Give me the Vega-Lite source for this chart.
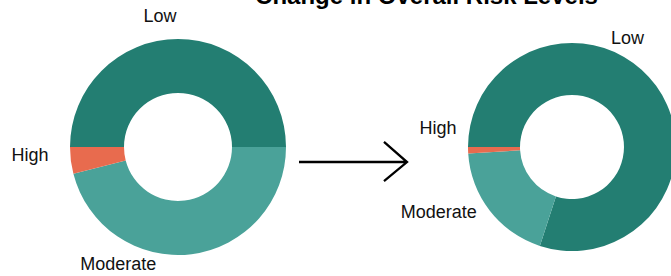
{
  "$schema": "https://vega.github.io/schema/vega-lite/v6.json",
  "width": 671,
  "height": 256,
  "autosize": {"type": "none"},
  "padding": {"left": 0, "right": 0, "top": 19, "bottom": 1},
  "background": "white",
  "title": {
    "text": "Change in Overall Risk Levels",
    "font": "Liberation Sans",
    "fontSize": 24,
    "fontWeight": "bold",
    "color": "black",
    "anchor": "middle",
    "frame": "group",
    "dx": 91,
    "dy": 5,
    "offset": 4
  },
  "config": {"view": {"stroke": null}, "text": {"font": "Liberation Sans"}},
  "datasets": {
    "risk": [
      {"chart": "Before", "level": "Low", "rank": 1, "share": 50},
      {"chart": "Before", "level": "Moderate", "rank": 2, "share": 46},
      {"chart": "Before", "level": "High", "rank": 3, "share": 4},
      {"chart": "After", "level": "Low", "rank": 1, "share": 80},
      {"chart": "After", "level": "Moderate", "rank": 2, "share": 19},
      {"chart": "After", "level": "High", "rank": 3, "share": 1}
    ],
    "arrow": [{"from": "Before", "to": "After"}]
  },
  "data": {"name": "risk"},
  "encoding": {
    "x": {"field": "chart", "type": "nominal", "scale": {"type": "point", "padding": 0, "domain": ["Before", "After"], "range": [178, 572]}, "axis": null},
    "theta": {"field": "share", "type": "quantitative", "stack": true, "scale": {"range": [-1.5707963, 4.712389]}},
    "order": {"field": "rank", "type": "ordinal"}
  },
  "layer": [
    {
      "transform": [{"filter": "datum.chart === 'Before'"}],
      "mark": {"type": "arc", "outerRadius": 108, "innerRadius": 54},
      "encoding": {
        "color": {"field": "level", "type": "nominal", "scale": {"domain": ["Low", "Moderate", "High"], "range": ["#237e72", "#4aa299", "#e86b4e"]}, "legend": null}
      }
    },
    {
      "transform": [{"filter": "datum.chart === 'After'"}],
      "mark": {"type": "arc", "outerRadius": 104, "innerRadius": 52},
      "encoding": {
        "color": {"field": "level", "type": "nominal", "legend": null}
      }
    },
    {
      "transform": [{"filter": "datum.chart === 'Before'"}],
      "mark": {"type": "text", "radius": 122, "dx": -18, "dy": -8, "fontSize": 18, "color": "#111"},
      "encoding": {"text": {"condition": {"test": "datum.level === 'Low'", "field": "level"}, "value": ""}}
    },
    {
      "transform": [{"filter": "datum.chart === 'Before'"}],
      "mark": {"type": "text", "radius": 122, "dx": -75, "dy": -3, "fontSize": 18, "color": "#111"},
      "encoding": {"text": {"condition": {"test": "datum.level === 'Moderate'", "field": "level"}, "value": ""}}
    },
    {
      "transform": [{"filter": "datum.chart === 'Before'"}],
      "mark": {"type": "text", "radius": 122, "dx": -27, "dy": -6, "fontSize": 18, "color": "#111"},
      "encoding": {"text": {"condition": {"test": "datum.level === 'High'", "field": "level"}, "value": ""}}
    },
    {
      "transform": [{"filter": "datum.chart === 'After'"}],
      "mark": {"type": "text", "radius": 118, "dx": -40, "dy": -39, "fontSize": 18, "color": "#111"},
      "encoding": {"text": {"condition": {"test": "datum.level === 'Low'", "field": "level"}, "value": ""}}
    },
    {
      "transform": [{"filter": "datum.chart === 'After'"}],
      "mark": {"type": "text", "radius": 118, "dx": -40, "dy": -6, "fontSize": 18, "color": "#111"},
      "encoding": {"text": {"condition": {"test": "datum.level === 'Moderate'", "field": "level"}, "value": ""}}
    },
    {
      "transform": [{"filter": "datum.chart === 'After'"}],
      "mark": {"type": "text", "radius": 118, "dx": -16, "dy": -22, "fontSize": 18, "color": "#111"},
      "encoding": {"text": {"condition": {"test": "datum.level === 'High'", "field": "level"}, "value": ""}}
    },
    {
      "data": {"name": "arrow"},
      "mark": {
        "type": "point",
        "shape": "M-0.676,0.278 L1.324,0.278 M0.898,-0.093 L1.324,0.278 L0.898,0.63",
        "size": 11664,
        "filled": false,
        "stroke": "black",
        "strokeWidth": 2.3,
        "opacity": 1
      },
      "encoding": {"x": null, "theta": null, "order": null}
    }
  ]
}
